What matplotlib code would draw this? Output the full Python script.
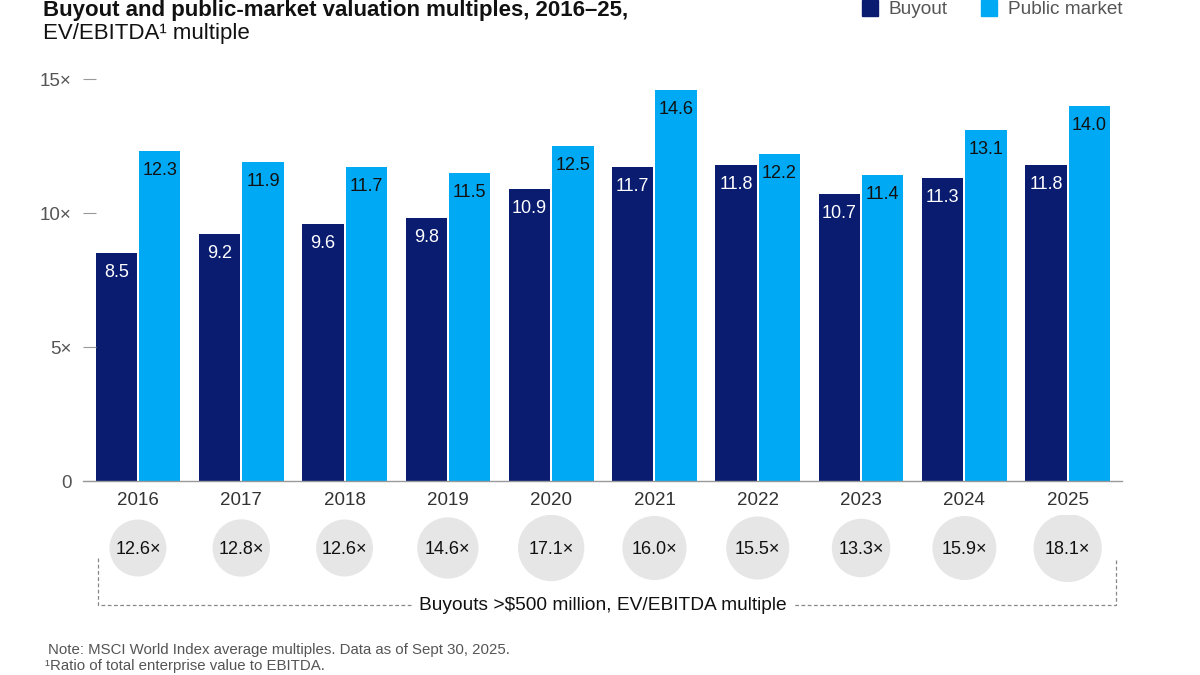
import matplotlib.pyplot as plt
import numpy as np

plt.rcParams['font.family'] = ['Liberation Sans', 'DejaVu Sans']

years = ['2016', '2017', '2018', '2019', '2020', '2021', '2022', '2023', '2024', '2025']
buyout = [8.5, 9.2, 9.6, 9.8, 10.9, 11.7, 11.8, 10.7, 11.3, 11.8]
public_market = [12.3, 11.9, 11.7, 11.5, 12.5, 14.6, 12.2, 11.4, 13.1, 14.0]
large_buyouts = [12.6, 12.8, 12.6, 14.6, 17.1, 16.0, 15.5, 13.3, 15.9, 18.1]
y_ticks = [0, 5, 10, 15]
y_tick_labels = ['0', '5×', '10×', '15×']

NAVY = '#0a1c70'
SKY = '#00a9f4'
GREY_TXT = '#555555'

fig = plt.figure(figsize=(12, 6.75), dpi=100)
W, H = 1200, 675

# main bar axes (pixel placement converted to figure fractions)
ax = fig.add_axes([83 / W, (H - 481) / H, (1122 - 83) / W, (481 - 79) / H])
x = np.arange(len(years))
bw = 0.4
off = 0.21
ax.bar(x - off, buyout, bw, color=NAVY)
ax.bar(x + off, public_market, bw, color=SKY)

for xi, v in zip(x, buyout):
    ax.annotate(f'{v:.1f}', (xi - off, v), xytext=(0, -14), textcoords='offset points',
                ha='center', va='center', color='white', fontsize=13)
for xi, v in zip(x, public_market):
    ax.annotate(f'{v:.1f}', (xi + off, v), xytext=(0, -14), textcoords='offset points',
                ha='center', va='center', color='#111111', fontsize=13)

ax.set_xlim(-0.532, 9.526)
ax.set_ylim(0, 15)
ax.set_yticks(y_ticks)
ax.set_yticklabels(y_tick_labels)
ax.set_xticks(x)
ax.set_xticklabels(years)
ax.tick_params(axis='y', direction='in', length=9.4, color='#999999', width=0.8,
               labelsize=13.5, labelcolor=GREY_TXT, pad=8)
ax.tick_params(axis='x', length=0, labelsize=13.5, labelcolor='#333333', pad=8)
for s in ['top', 'right', 'left']:
    ax.spines[s].set_visible(False)
ax.spines['bottom'].set_color('#999999')
ax.spines['bottom'].set_linewidth(1)

# bubble row, y in pixel units
bx = fig.add_axes([83 / W, (H - 625) / H, (1122 - 83) / W, 110 / H])
bx.set_xlim(ax.get_xlim())
bx.set_ylim(625, 515)
bx.axis('off')
bx.scatter(x, [548] * len(x), s=[v * 133.4 for v in large_buyouts], color='#e6e6e6',
           linewidths=0, zorder=2)
for xi, v in zip(x, large_buyouts):
    bx.text(xi, 549, f'{v:.1f}×', ha='center', va='center', fontsize=13,
            color='#111111', zorder=3)

left_x = (98 - 138) / 103.3
right_x = (1116 - 138) / 103.3
bx.plot([left_x, left_x, right_x, right_x], [558, 605, 605, 558], color='#888888',
        lw=0.9, ls=(0, (3, 2)), zorder=1, clip_on=False)
bx.text(4.5, 605, 'Buyouts >$500 million, EV/EBITDA multiple', ha='center', va='center',
        fontsize=13.8, color='#111111', zorder=3,
        bbox=dict(boxstyle='square,pad=0.35', fc='white', ec='none'))

# titles
fig.text(43 / W, 1 - 16 / H, 'Buyout and public-market valuation multiples, 2016–25,',
         fontsize=16, fontweight='bold', color='#111111', va='baseline')
fig.text(43 / W, 1 - 34 / H, 'EV/EBITDA¹ multiple', fontsize=16, color='#111111', va='center')

# legend
fig.patches.append(plt.Rectangle((862 / W, 1 - 16 / H), 16 / W, 16 / H,
                                 transform=fig.transFigure, color=NAVY))
fig.text(889 / W, 1 - 9 / H, 'Buyout', fontsize=13.7, color=GREY_TXT, va='center')
fig.patches.append(plt.Rectangle((981 / W, 1 - 16 / H), 16 / W, 16 / H,
                                 transform=fig.transFigure, color=SKY))
fig.text(1008 / W, 1 - 9 / H, 'Public market', fontsize=13.7, color=GREY_TXT, va='center')

# notes
fig.text(48 / W, 1 - 650 / H, 'Note: MSCI World Index average multiples. Data as of Sept 30, 2025.',
         fontsize=10.8, color=GREY_TXT, va='center')
fig.text(45 / W, 1 - 666 / H, '¹Ratio of total enterprise value to EBITDA.',
         fontsize=10.8, color=GREY_TXT, va='center')

fig.savefig('out.png', dpi=100)
